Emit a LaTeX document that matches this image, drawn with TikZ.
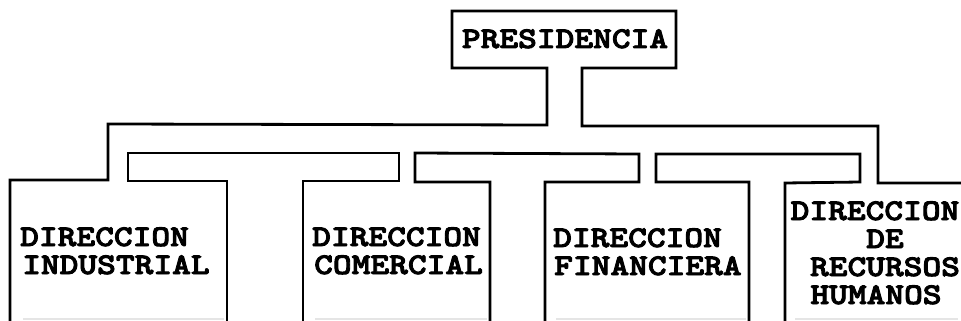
\documentclass[tikz,border=0pt]{standalone}
\usepackage{fontspec}
\newfontfamily\courfont{lmmonolt10-bold.otf}[FakeStretch=1.19,FakeBold=3]
\begin{document}
\begin{tikzpicture}[x=1pt,y=-1pt,
  pipe/.style={draw=black,line width=2.8pt,line join=miter},
  faint/.style={draw=black!10,line width=1.5pt},
  lbl/.style={inner sep=0pt,anchor=base west,font=\courfont\fontsize{30}{28}\selectfont},
  lblc/.style={inner sep=0pt,anchor=base,font=\courfont\fontsize{30}{28}\selectfont}]
\useasboundingbox[fill=white] (0,0) rectangle (961,321);
% outer outline: boxes, bus and presidency
\draw[pipe] (10,322) -- (10,180) -- (108,180) -- (108,124) -- (547,125) -- (547,68)
  -- (452,68) -- (452,11) -- (676,11) -- (676,68) -- (582,68) -- (582,126)
  -- (878,126) -- (878,183) -- (962,183);
% inner T-shaped outlines
\draw[pipe] (227,322) -- (227,181) -- (128,181) -- (128,153) -- (399,153) -- (399,181) -- (303,181) -- (303,322);
\draw[pipe] (490,322) -- (490,182) -- (415,182) -- (415,153) -- (639,154) -- (639,182) -- (545,182) -- (545,322);
\draw[pipe] (749,322) -- (749,182) -- (656,182) -- (656,154) -- (860,154) -- (860,182) -- (785,183) -- (785,322);
% faint bottom edges (scan)
\draw[faint] (23,319) -- (224,319);
\draw[faint] (315,319) -- (487,319);
\draw[faint] (556,319) -- (746,319);
\draw[faint] (795,319) -- (958,319);
% texts
\node[lblc] (pres) at (565,48) {PRESIDENCIA};
\node[lbl] (ind1) at (20,246) {DIRECCION};
\node[lbl] (ind2) at (22,274) {INDUSTRIAL};
\node[lbl] (com1) at (312,246) {DIRECCION};
\node[lbl] (com2) at (314,274) {COMERCIAL};
\node[lbl] (fin1) at (553,247) {DIRECCION};
\node[lbl] (fin2) at (554,275) {FINANCIERA};
\node[lblc] (rh1) at (875,220) {DIRECCION};
\node[lblc] (rh2) at (885,248) {DE};
\node[lblc] (rh3) at (885,276) {RECURSOS};
\node[lblc] (rh4) at (876,304) {HUMANOS};
\end{tikzpicture}
\end{document}
